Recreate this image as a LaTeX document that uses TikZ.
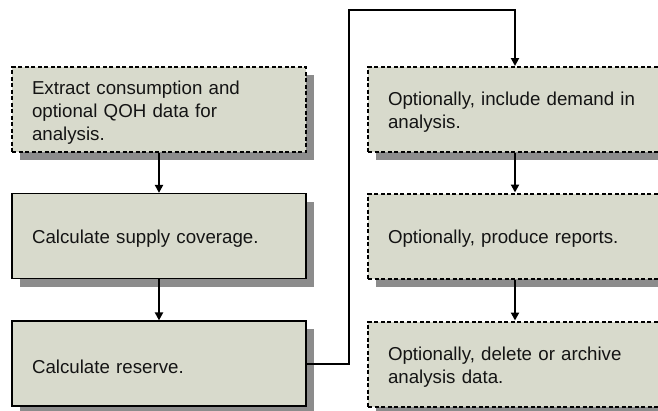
\documentclass[tikz,border=0pt]{standalone}
\usepackage{fontspec}
\setmainfont{Liberation Sans}
\usetikzlibrary{arrows.meta,shadows}
\definecolor{boxfill}{RGB}{216,218,204}
\definecolor{shadowgray}{RGB}{140,140,140}
\definecolor{textcol}{RGB}{20,20,20}
\begin{document}
\begin{tikzpicture}[x=1pt,y=-1pt,
  box/.style={rectangle, fill=boxfill, minimum width=294pt, minimum height=85pt,
    inner sep=0pt,
    drop shadow={shadow xshift=8pt, shadow yshift=-8pt, fill=shadowgray, opacity=1}},
  solidbox/.style={box, draw=black, line width=1.2pt},
  dashbox/.style={box, draw=black, line width=2pt, dash pattern=on 4pt off 2.5pt},
  txt/.style={text width=254pt, inner sep=0pt, align=left, text=textcol,
    font=\fontsize{18.7}{23}\selectfont},
  conn/.style={draw=black, line width=2pt, -{Triangle[length=8pt,width=8pt]}}]
\useasboundingbox (0,0) rectangle (658,410);
\clip (0,0) rectangle (658,410);
\node[dashbox]  (b1) at (159,109.5) {};
\node[solidbox] (b2) at (159,236)   {};
\node[solidbox] (b3) at (159,363.5) {};
\node[dashbox]  (b4) at (515,109.5) {};
\node[dashbox]  (b5) at (515,236)   {};
\node[dashbox]  (b6) at (515,364)   {};
\node[txt] (t1) at ([yshift=-3pt]b1.center) {Extract consumption and\\optional QOH data for\\analysis.};
\node[txt] (t2) at ([yshift=-3pt]b2.center) {Calculate supply coverage.};
\node[txt] (t3) at ([yshift=-3pt]b3.center) {Calculate reserve.};
\node[txt] (t4) at ([yshift=-3pt]b4.center) {Optionally, include demand in\\analysis.};
\node[txt] (t5) at ([yshift=-3pt]b5.center) {Optionally, produce reports.};
\node[txt] (t6) at ([yshift=-3pt]b6.center) {Optionally, delete or archive\\analysis data.};
\coordinate (k1) at (349,10);
\draw[conn] (b1) -- (b2);
\draw[conn] (b2) -- (b3);
\draw[conn] (b3.east) -| (k1) -| (b4.north);
\draw[conn] (b4) -- (b5);
\draw[conn] (b5) -- (b6);
\end{tikzpicture}
\end{document}
